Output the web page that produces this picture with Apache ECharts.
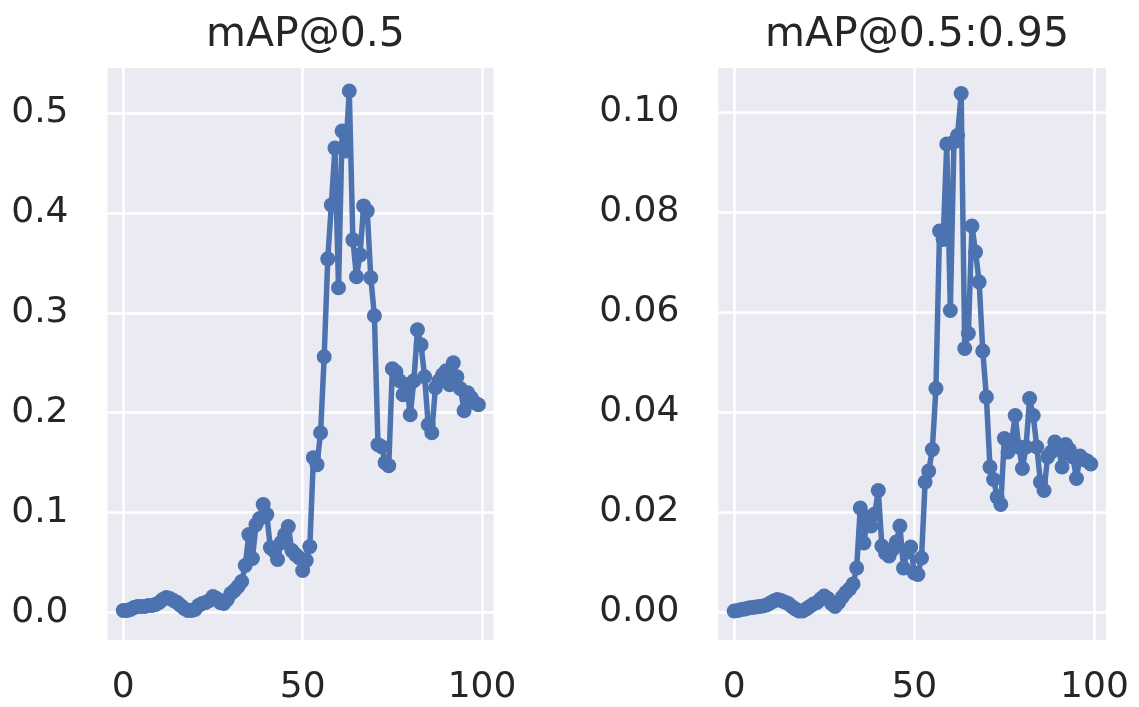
<!DOCTYPE html>
<html>
<head>
<meta charset="utf-8">
<title>mAP</title>
<script src="https://cdn.jsdelivr.net/npm/echarts@6/dist/echarts.min.js"></script>
<style>
  html, body { margin: 0; padding: 0; background: #fff; }
  #main { width: 1139px; height: 707px; }
</style>
</head>
<body>
<div id="main"></div>
<script>
// titles of the two panels
const titles = ['mAP@0.5', 'mAP@0.5:0.95']
const xTicks = [0, 50, 100]
const yTicksLeft = [0.0, 0.1, 0.2, 0.3, 0.4, 0.5]
const yTicksRight = [0.00, 0.02, 0.04, 0.06, 0.08, 0.10]

// values per epoch
const map50 = [
  0.002, 0.002, 0.003, 0.005, 0.006, 0.006, 0.006, 0.007, 0.007, 0.008,
  0.010, 0.013, 0.015, 0.014, 0.012, 0.010, 0.007, 0.004, 0.002, 0.002,
  0.003, 0.007, 0.009, 0.010, 0.012, 0.016, 0.014, 0.010, 0.009, 0.013,
  0.019, 0.022, 0.026, 0.031, 0.047, 0.078, 0.054, 0.088, 0.094, 0.108,
  0.098, 0.065, 0.062, 0.053, 0.070, 0.078, 0.086, 0.062, 0.058, 0.055,
  0.042, 0.052, 0.066, 0.155, 0.148, 0.180, 0.256, 0.354, 0.408, 0.465,
  0.325, 0.482, 0.462, 0.522, 0.373, 0.336, 0.358, 0.407, 0.402, 0.335,
  0.297, 0.168, 0.166, 0.150, 0.147, 0.244, 0.241, 0.232, 0.218, 0.228,
  0.198, 0.232, 0.283, 0.268, 0.236, 0.188, 0.180, 0.225, 0.232, 0.238,
  0.242, 0.228, 0.250, 0.236, 0.224, 0.202, 0.220, 0.215, 0.210, 0.208
]
const map5095 = [
  0.0002, 0.0003, 0.0005, 0.0006, 0.0008, 0.0009, 0.0010, 0.0011, 0.0012, 0.0014,
  0.0018, 0.0022, 0.0025, 0.0023, 0.0020, 0.0017, 0.0011, 0.0006, 0.0002, 0.0002,
  0.0006, 0.0011, 0.0016, 0.0019, 0.0026, 0.0032, 0.0027, 0.0017, 0.0011, 0.0019,
  0.0030, 0.0039, 0.0046, 0.0056, 0.0088, 0.0208, 0.0138, 0.0190, 0.0172, 0.0196,
  0.0243, 0.0132, 0.0118, 0.0112, 0.0125, 0.0140, 0.0172, 0.0088, 0.0120, 0.0130,
  0.0078, 0.0075, 0.0108, 0.0260, 0.0282, 0.0325, 0.0447, 0.0762, 0.0745, 0.0936,
  0.0603, 0.0940, 0.0953, 0.1037, 0.0527, 0.0557, 0.0772, 0.0720, 0.0660, 0.0522,
  0.0430, 0.0290, 0.0265, 0.0230, 0.0215, 0.0347, 0.0320, 0.0340, 0.0393, 0.0330,
  0.0287, 0.0330, 0.0427, 0.0393, 0.0330, 0.0260, 0.0243, 0.0310, 0.0320, 0.0340,
  0.0330, 0.0290, 0.0335, 0.0325, 0.0310, 0.0267, 0.0312, 0.0305, 0.0302, 0.0296
]

const font = 'DejaVu Sans'
const textColor = '#262626'
const lineColor = '#4c72b0'

function pairs(arr) {
  return arr.map((v, i) => [i, v])
}

function xAxisOf(gridIndex) {
  return {
    type: 'value',
    gridIndex: gridIndex,
    min: -4.4,
    max: 103.2,
    axisLine: { show: false },
    axisTick: { show: false, customValues: xTicks },
    axisLabel: {
      customValues: xTicks,
      color: textColor,
      fontFamily: font,
      fontSize: 36,
      margin: 30
    },
    splitLine: { show: true, lineStyle: { color: '#fff', width: 2.5 } }
  }
}

function yAxisOf(gridIndex, ticks, min, max, digits) {
  return {
    type: 'value',
    gridIndex: gridIndex,
    min: min,
    max: max,
    axisLine: { show: false },
    axisTick: { show: false, customValues: ticks },
    axisLabel: {
      customValues: ticks,
      color: textColor,
      fontFamily: font,
      fontSize: 36,
      margin: 39,
      formatter: v => v.toFixed(digits)
    },
    splitLine: { show: true, lineStyle: { color: '#fff', width: 2.5 } }
  }
}

function seriesOf(idx, data) {
  return {
    type: 'line',
    xAxisIndex: idx,
    yAxisIndex: idx,
    data: pairs(data),
    symbol: 'circle',
    symbolSize: 15,
    showSymbol: true,
    animation: false,
    lineStyle: { color: lineColor, width: 5.5 },
    itemStyle: { color: lineColor },
    z: 3
  }
}

const chart = echarts.init(document.getElementById('main'))
chart.setOption({
  animation: false,
  backgroundColor: '#fff',
  title: [
    {
      text: titles[0],
      left: 300.5,
      top: 10,
      textAlign: 'center',
      textStyle: { fontFamily: font, fontSize: 41, fontWeight: 'normal', color: textColor }
    },
    {
      text: titles[1],
      left: 912,
      top: 10,
      textAlign: 'center',
      textStyle: { fontFamily: font, fontSize: 41, fontWeight: 'normal', color: textColor }
    }
  ],
  grid: [
    { left: 107.5, right: 645.5, top: 68, bottom: 67, show: true, backgroundColor: '#eaeaf2', borderWidth: 0 },
    { left: 718.3, right: 33, top: 68, bottom: 67, show: true, backgroundColor: '#eaeaf2', borderWidth: 0 }
  ],
  xAxis: [xAxisOf(0), xAxisOf(1)],
  yAxis: [
    yAxisOf(0, yTicksLeft, -0.0275, 0.545, 1),
    yAxisOf(1, yTicksRight, -0.0056, 0.1088, 2)
  ],
  series: [seriesOf(0, map50), seriesOf(1, map5095)]
})
</script>
</body>
</html>
